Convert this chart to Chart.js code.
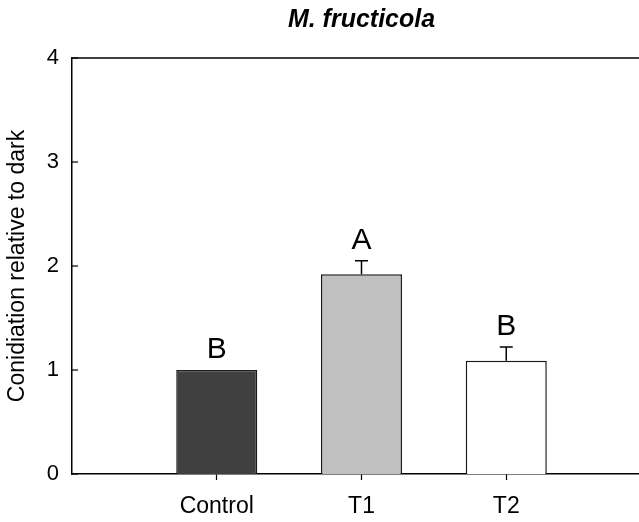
<!DOCTYPE html>
<html>
<head>
<meta charset="utf-8">
<title>M. fructicola</title>
<script src="https://cdn.jsdelivr.net/npm/chart.js@4.4.1/dist/chart.umd.min.js"></script>
<style>
    html, body { margin: 0; padding: 0; background: #fff; overflow: hidden; }
    #wrap { width: 664px; height: 522px; }
</style>
</head>
<body>
<div id="wrap"><canvas id="chart" width="664" height="522"></canvas></div>
<script>
// treatment groups and measured conidiation (relative to dark)
const categories = ['Control', 'T1', 'T2'];
const conidiation = [1.00, 1.92, 1.09];
const sem = [0, 0.13, 0.13];
const letters = ['B', 'A', 'B'];
const fills = ['#404040', '#c0c0c0', '#ffffff'];
const yTicks = [0, 1, 2, 3, 4];

// blank slots either side so the groups sit at 1, 2, 3 on a 0..4 axis
const labels = ['', ...categories, ''];
const values = [null, ...conidiation, null];
const errors = [null, ...sem, null];
const marks = ['', ...letters, ''];
const colors = ['#fff', ...fills, '#fff'];

const FONT = "'Liberation Sans', Arial, sans-serif";

const extras = {
    id: 'extras',
    afterDatasetsDraw(chart) {
        const { ctx, chartArea } = chart;
        const x = chart.scales.x;
        const y = chart.scales.y;
        ctx.save();
        ctx.strokeStyle = '#000';

        // frame top
        ctx.lineWidth = 1.5;
        ctx.beginPath();
        ctx.moveTo(chartArea.left, chartArea.top);
        ctx.lineTo(chartArea.right + 20, chartArea.top);
        ctx.stroke();

        // inward ticks on the value axis
        ctx.lineWidth = 1.2;
        yTicks.forEach(v => {
            const py = y.getPixelForValue(v);
            ctx.beginPath();
            ctx.moveTo(chartArea.left, py);
            ctx.lineTo(chartArea.left + 6, py);
            ctx.stroke();
        });

        // upper error bars and significance letters
        ctx.fillStyle = '#000';
        ctx.font = '30px ' + FONT;
        ctx.textAlign = 'center';
        ctx.textBaseline = 'alphabetic';
        values.forEach((v, i) => {
            if (v === null) return;
            const px = x.getPixelForValue(i);
            const top = v + (errors[i] || 0);
            const pBar = y.getPixelForValue(v);
            const pTop = y.getPixelForValue(top);
            if (errors[i]) {
                ctx.lineWidth = 1.5;
                ctx.beginPath();
                ctx.moveTo(px, pBar);
                ctx.lineTo(px, pTop);
                ctx.moveTo(px - 6.5, pTop);
                ctx.lineTo(px + 6.5, pTop);
                ctx.stroke();
            }
            ctx.fillText(marks[i], px, pTop - 12);
        });
        ctx.restore();
    }
};

new Chart(document.getElementById('chart'), {
    type: 'bar',
    data: {
        labels: labels,
        datasets: [{
            data: values,
            backgroundColor: colors,
            borderColor: '#1a1a1a',
            borderWidth: 1.5,
            barPercentage: 0.56,
            categoryPercentage: 1
        }]
    },
    options: {
        responsive: false,
        animation: false,
        layout: { padding: 0 },
        plugins: {
            legend: { display: false },
            tooltip: { enabled: false },
            title: {
                display: true,
                text: 'M. fructicola',
                fullSize: false,
                color: '#000',
                font: { family: FONT, size: 25, weight: 'bold', style: 'italic' },
                padding: { top: 5, bottom: 23 }
            }
        },
        scales: {
            x: {
                type: 'category',
                offset: false,
                z: 1,
                grid: {
                    display: true,
                    offset: false,
                    drawOnChartArea: false,
                    drawTicks: true,
                    tickLength: 6,
                    tickWidth: 1.2,
                    tickColor: c => (c.tick && c.tick.label) ? '#000' : 'rgba(0,0,0,0)'
                },
                border: { color: '#000', width: 1.5 },
                ticks: {
                    color: '#000',
                    font: { family: FONT, size: 23 },
                    padding: 13,
                    autoSkip: false,
                    maxRotation: 0
                },
                afterFit: s => { s.height = 48; }
            },
            y: {
                min: 0,
                max: 4,
                z: 1,
                grid: { display: false, drawTicks: false },
                border: { color: '#000', width: 1.5 },
                ticks: {
                    stepSize: 1,
                    color: '#000',
                    font: { family: FONT, size: 22 },
                    padding: 13
                },
                title: {
                    display: true,
                    text: 'Conidiation relative to dark',
                    color: '#000',
                    font: { family: FONT, size: 23 },
                    padding: { top: 4, bottom: 0 }
                },
                afterFit: s => { s.width = 72; }
            }
        }
    },
    plugins: [extras]
});
</script>
</body>
</html>
